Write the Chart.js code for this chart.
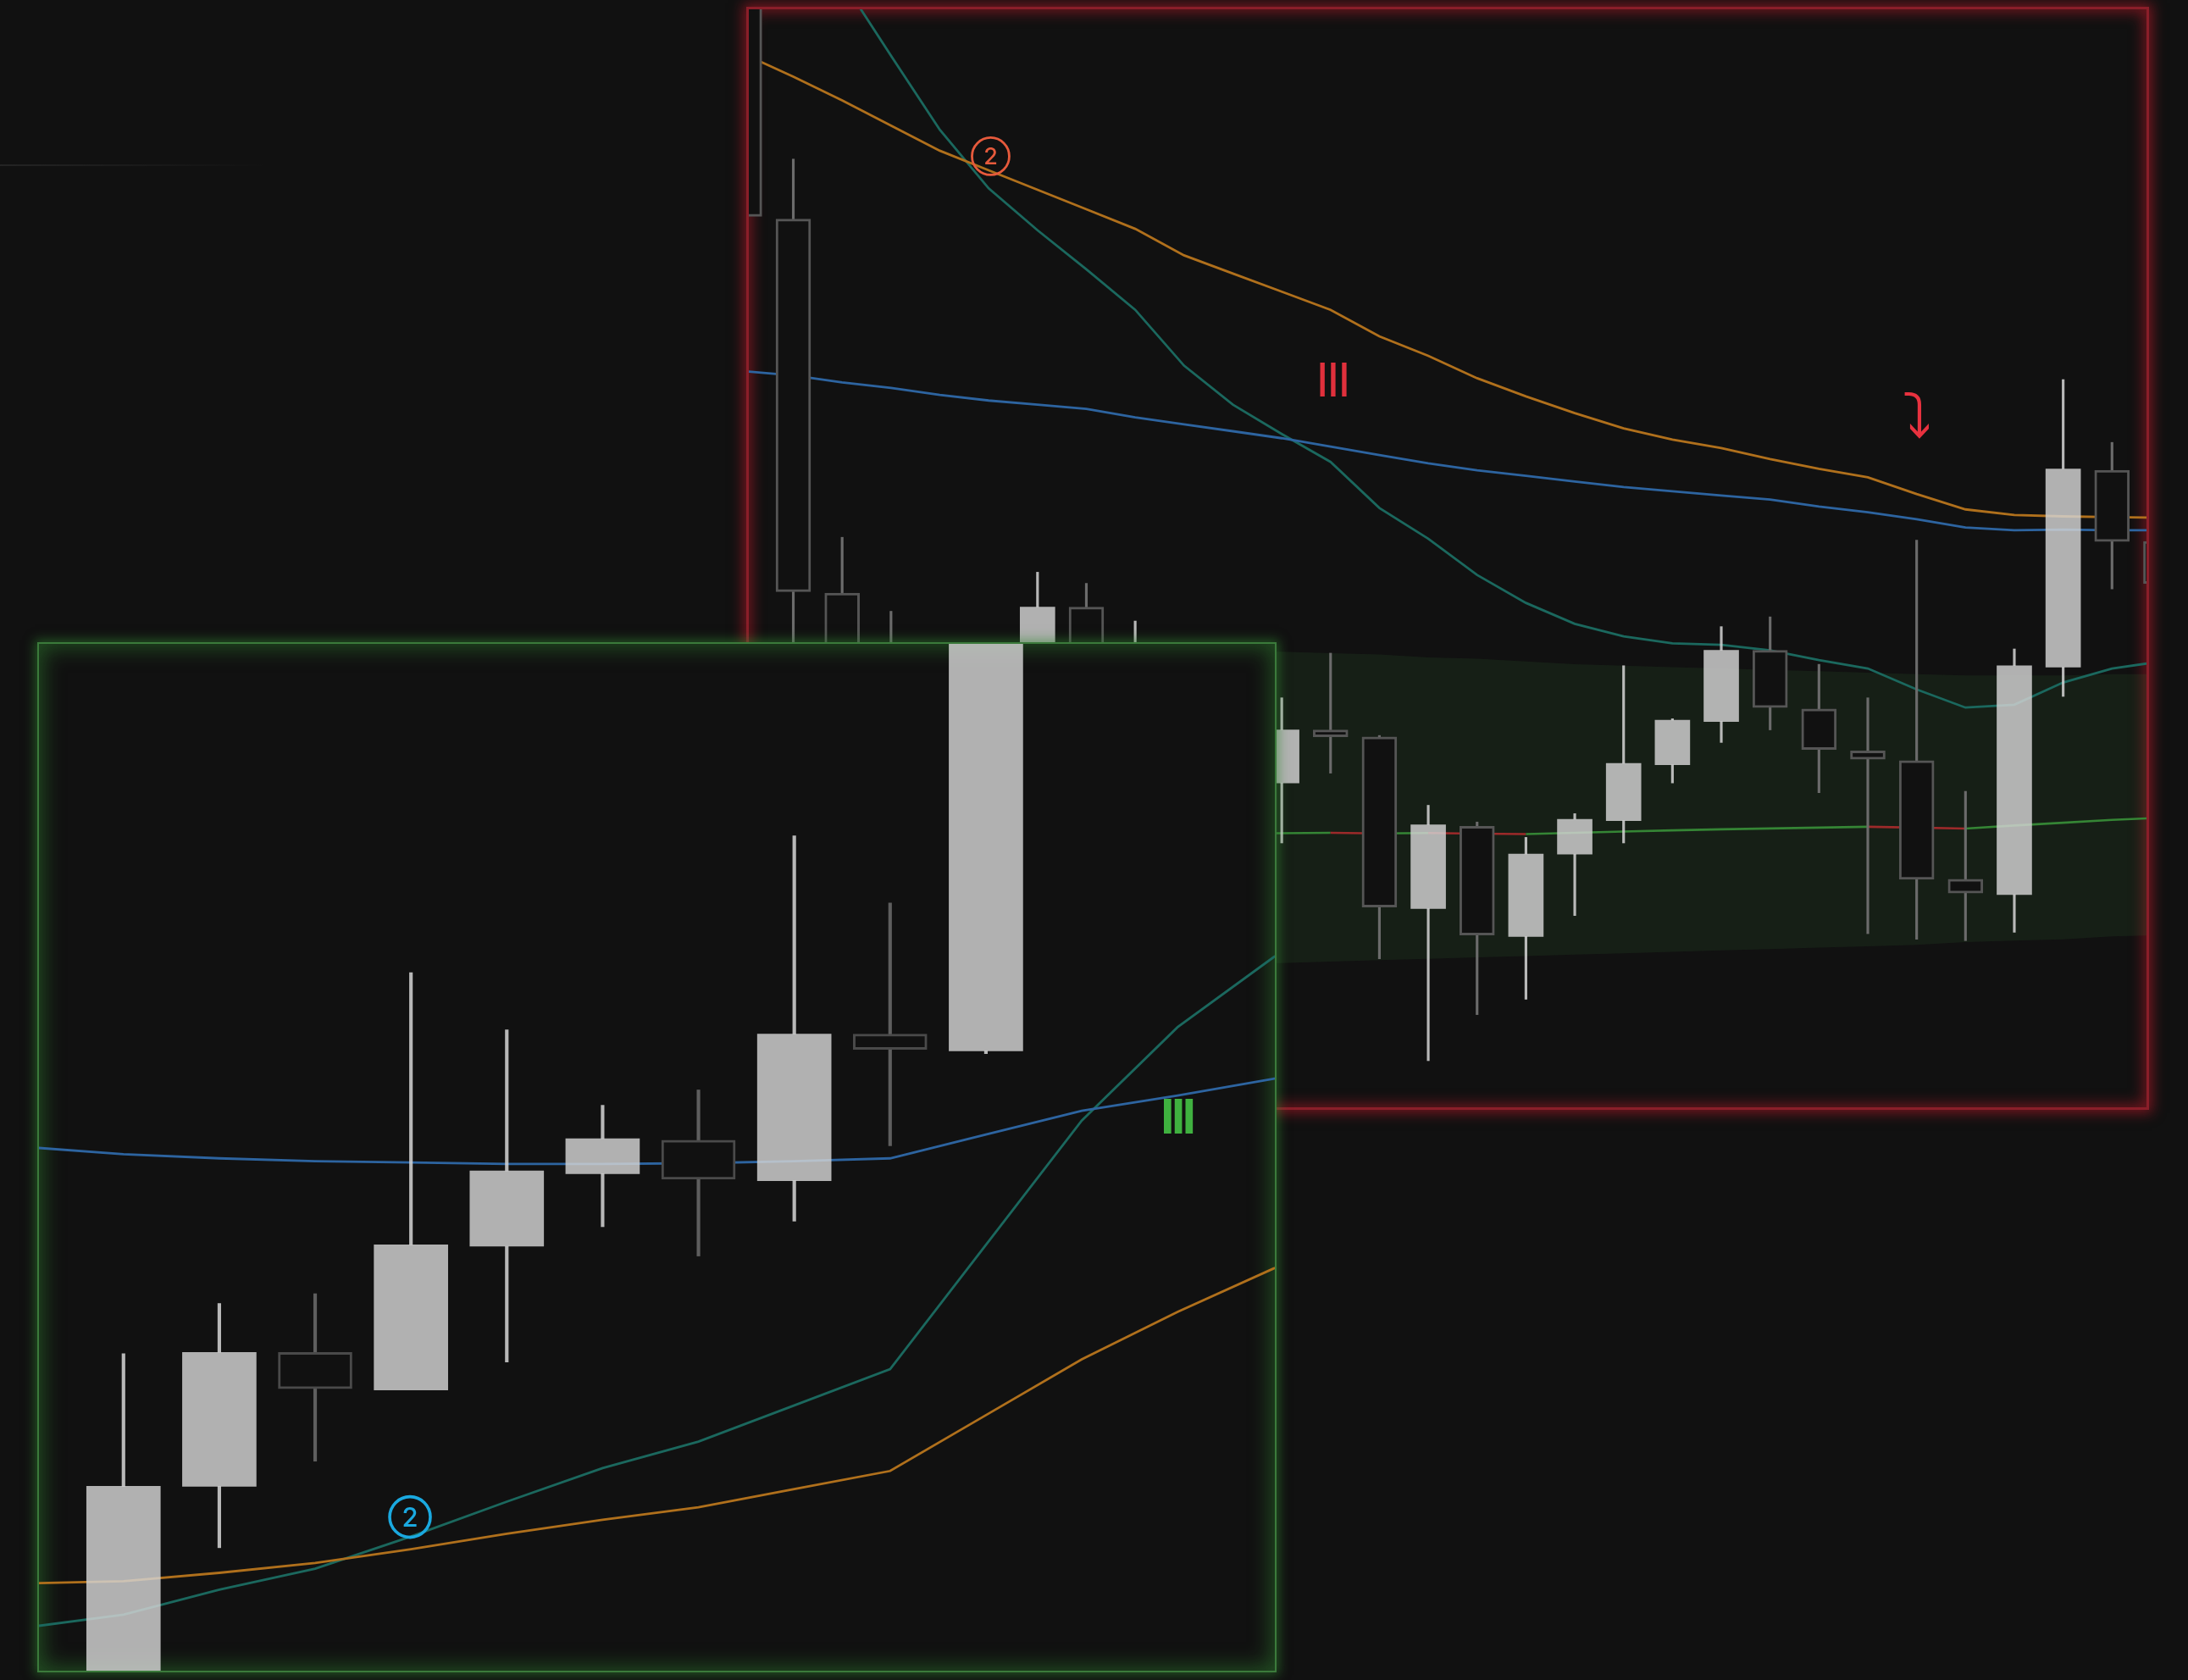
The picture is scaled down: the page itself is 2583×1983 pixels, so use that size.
<!DOCTYPE html>
<html>
<head>
<meta charset="utf-8">
<script src="https://cdn.jsdelivr.net/npm/chart.js@4.4.1/dist/chart.umd.min.js"></script>
<style>
    html, body { margin: 0; padding: 0; background: #111111; width: 2583px; height: 1983px; overflow: hidden; }
    .risco { position: absolute; left: 0; top: 194px; width: 320px; height: 2px; background: linear-gradient(to right, rgba(255,255,255,0.08), rgba(255,255,255,0)); }
    .quadro { position: absolute; box-sizing: border-box; background: #111111; }
    #quadroVermelho { left: 881px; top: 8px; width: 1656px; height: 1302px; border: 3px solid #8a1e29; box-shadow: 0 0 14px 4px rgba(180,25,40,0.6), inset 0 0 16px 4px rgba(180,25,40,0.55); z-index: 1; }
    #quadroVerde { left: 44px; top: 758px; width: 1463px; height: 1216px; border: 2px solid #3b7a3b; box-shadow: 0 0 12px 3px rgba(50,135,50,0.55), inset 0 0 24px 5px rgba(50,135,50,0.5); z-index: 2; }
    canvas { position: absolute; left: 0; top: 0; }
</style>
</head>
<body>
<div class="risco"></div>
<div class="quadro" id="quadroVermelho"><canvas id="graficoVermelho" width="1650" height="1296"></canvas></div>
<div class="quadro" id="quadroVerde"><canvas id="graficoVerde" width="1459" height="1212"></canvas></div>

<script>
// ---- grafico de cima (quadro vermelho) ----
var abreVermelho  = [90.5, 74.3, 47.5, 43.0, 40.0, 41.5, 42.5, 46.5, 41.0, 40.5, 37.0, 33.9, 37.7, 37.2, 24.9, 30.8, 22.9, 28.8, 31.2, 35.2, 38.3, 43.4, 39.2, 36.2, 35.5, 27.0, 25.9, 42.2, 56.3, 51.2];
var maxVermelho   = [92.0, 78.6, 51.5, 46.2, 43.0, 43.5, 49.0, 48.2, 45.5, 42.0, 39.5, 40.0, 43.2, 37.3, 32.3, 31.1, 30.0, 31.7, 42.3, 38.5, 45.1, 45.8, 42.4, 40.0, 51.3, 33.3, 43.5, 62.8, 58.3, 52.0];
var minVermelho   = [70.0, 42.0, 39.5, 39.0, 38.5, 40.5, 41.0, 40.8, 40.0, 34.0, 31.0, 29.6, 34.6, 21.3, 14.0, 17.3, 18.4, 24.4, 29.6, 33.9, 36.8, 37.7, 33.2, 23.1, 22.7, 22.6, 23.2, 40.1, 47.8, 47.0];
var fechaVermelho = [74.5, 47.6, 42.0, 41.0, 42.0, 43.0, 46.5, 42.2, 43.5, 37.0, 34.0, 37.7, 37.2, 25.0, 30.9, 23.0, 28.8, 31.3, 35.3, 38.4, 43.4, 39.3, 36.3, 35.6, 27.0, 26.0, 42.3, 56.4, 51.2, 48.2];

var mediaLaranjaVermelho = [86.1, 84.5, 82.8, 81.0, 79.2, 77.8, 76.4, 75.0, 73.6, 71.7, 70.4, 69.1, 67.8, 65.9, 64.5, 62.9, 61.6, 60.4, 59.3, 58.5, 57.9, 57.1, 56.4, 55.8, 54.6, 53.5, 53.1, 53.0, 52.95, 52.9];
var mediaAzulVermelho    = [63.4, 63.1, 62.6, 62.2, 61.7, 61.3, 61.0, 60.7, 60.1, 59.6, 59.1, 58.6, 58.0, 57.4, 56.8, 56.3, 55.9, 55.5, 55.1, 54.8, 54.5, 54.2, 53.7, 53.3, 52.8, 52.2, 52.0, 52.05, 52.0, 52.0];
var mediaVerdeAguaVermelho = [102.2, 96.8, 91.4, 86.0, 80.7, 76.5, 73.5, 70.7, 67.8, 63.8, 61.0, 58.9, 56.9, 53.6, 51.4, 48.8, 46.8, 45.3, 44.4, 43.9, 43.8, 43.4, 42.7, 42.1, 40.6, 39.3, 39.5, 41.1, 42.1, 42.6];

var faixaTopo  = [43.3, 43.3, 43.3, 43.3, 43.3, 43.3, 43.3, 43.3, 43.3, 43.3, 43.3, 43.3, 43.2, 43.1, 42.9, 42.8, 42.6, 42.4, 42.3, 42.2, 42.1, 42.0, 41.9, 41.8, 41.7, 41.6, 41.6, 41.6, 41.7, 41.7];
var faixaMeio  = [30.3, 30.3, 30.3, 30.3, 30.3, 30.3, 30.3, 30.3, 30.3, 30.3, 30.3, 30.3, 30.33, 30.28, 30.31, 30.27, 30.24, 30.33, 30.42, 30.5, 30.58, 30.64, 30.7, 30.76, 30.7, 30.63, 30.85, 31.05, 31.25, 31.4];
var faixaBase  = [21.0, 21.0, 21.0, 21.0, 21.0, 21.0, 21.0, 21.0, 21.0, 21.0, 21.0, 21.0, 21.1, 21.2, 21.3, 21.4, 21.5, 21.6, 21.7, 21.8, 21.9, 22.0, 22.1, 22.2, 22.3, 22.5, 22.6, 22.7, 22.9, 23.0];

// ---- grafico de baixo (quadro verde) ----
var abreVerde  = [3.5, 18.5, 28.1, 25.4, 35.7, 40.9, 43.3, 40.4, 50.9, 49.7];
var maxVerde   = [28.0, 31.6, 32.3, 55.3, 51.2, 45.8, 46.9, 65.1, 60.3, 83.0];
var minVerde   = [1.5, 14.1, 20.3, 25.4, 27.4, 37.1, 35.0, 37.5, 42.9, 49.5];
var fechaVerde = [18.5, 28.1, 25.5, 35.8, 41.1, 43.4, 40.5, 50.9, 49.8, 81.0];

var indicesMediasVerde = [-1, 0, 1, 2, 3, 4, 5, 6, 7, 8, 9, 10, 11, 12, 13];
var mediaAzulVerde     = [42.8, 42.3, 42.0, 41.8, 41.7, 41.6, 41.6, 41.65, 41.8, 42.0, 43.7, 45.4, 46.5, 47.7, 48.9];
var mediaVerdeAguaVerde = [8.4, 9.3, 11.1, 12.6, 14.9, 17.4, 19.8, 21.7, 24.3, 26.9, 35.8, 44.7, 51.4, 56.4, 61.0];
var mediaLaranjaVerde  = [11.55, 11.7, 12.3, 13.0, 14.0, 15.1, 16.1, 17.0, 18.3, 19.6, 23.6, 27.6, 31.0, 34.1, 37.0];

// marcas (indice da vela, preco)
var circuloVermelho = [5.04, 78.8];
var barrasVermelho  = [12.03, 62.8];
var setaVermelho    = [24.0, 60.2];
var circuloVerde    = [2.99, 16.3];
var barrasVerde     = [10.99, 45.0];

function pontos(xs, ys) {
    return ys.map((v, i) => ({ x: xs[i], y: v }));
}

function montarVelas(abre, max, min, fecha) {
    var velas = { corpoAlta: [], corpoBaixa: [], pavioAlta: [], pavioBaixa: [] };
    for (let i = 0; i < abre.length; i++) {
        var topo = Math.max(abre[i], fecha[i]);
        var base = Math.min(abre[i], fecha[i]);
        var alta = fecha[i] >= abre[i];
        var corpos = alta ? velas.corpoAlta : velas.corpoBaixa;
        var pavios = alta ? velas.pavioAlta : velas.pavioBaixa;
        corpos.push({ x: i, y: [abre[i], fecha[i]] });
        // pavio em dois pedacos para nao aparecer atras do corpo
        if (max[i] > topo) pavios.push({ x: i, y: [topo, max[i]] });
        if (min[i] < base) pavios.push({ x: i, y: [min[i], base] });
    }
    return velas;
}

function pluginMarcas(itens) {
    return {
        id: 'marcas',
        afterDatasetsDraw(chart) {
            var ctx = chart.ctx;
            var x = chart.scales.x;
            var y = chart.scales.y;
            ctx.save();
            itens.forEach((m) => {
                var px = x.getPixelForValue(m.pos[0]);
                var py = y.getPixelForValue(m.pos[1]);
                if (m.raio) {
                    ctx.beginPath();
                    ctx.arc(px, py, m.raio, 0, Math.PI * 2);
                    ctx.lineWidth = m.linha;
                    ctx.strokeStyle = m.cor;
                    ctx.stroke();
                }
                ctx.font = m.fonte;
                ctx.fillStyle = m.cor;
                ctx.textAlign = 'center';
                ctx.textBaseline = 'alphabetic';
                ctx.letterSpacing = m.espaco || '0px';
                var med = ctx.measureText(m.texto);
                ctx.fillText(m.texto, px, py + (med.actualBoundingBoxAscent - med.actualBoundingBoxDescent) / 2);
            });
            ctx.restore();
        }
    };
}

function graficoVelas(idCanvas, velas, medias, extras, eixoX, eixoY, estilo, marcas) {
    var ctx = document.getElementById(idCanvas).getContext('2d');

    var conjuntos = extras.concat(medias).concat([
        {
            type: 'bar', data: velas.pavioAlta, grouped: false, barThickness: estilo.pavio,
            backgroundColor: 'rgba(214,214,214,0.85)', borderWidth: 0, order: 5
        },
        {
            type: 'bar', data: velas.pavioBaixa, grouped: false, barThickness: estilo.pavio,
            backgroundColor: estilo.pavioBaixa, borderWidth: 0, order: 5
        },
        {
            type: 'bar', data: velas.corpoAlta, grouped: false, barThickness: estilo.corpo,
            backgroundColor: 'rgba(210,210,210,0.83)', borderWidth: 0, borderSkipped: false, order: 1
        },
        {
            type: 'bar', data: velas.corpoBaixa, grouped: false, barThickness: estilo.corpo,
            backgroundColor: '#111111', borderColor: estilo.bordaBaixa, borderWidth: estilo.borda, borderSkipped: false, order: 1
        }
    ]);

    new Chart(ctx, {
        type: 'bar',
        data: { datasets: conjuntos },
        options: {
            responsive: false,
            animation: false,
            maintainAspectRatio: false,
            layout: { padding: 0 },
            events: [],
            plugins: {
                legend: { display: false },
                tooltip: { enabled: false }
            },
            scales: {
                x: { type: 'linear', display: false, offset: false, min: eixoX[0], max: eixoX[1] },
                y: { type: 'linear', display: false, min: eixoY[0], max: eixoY[1] }
            }
        },
        plugins: [pluginMarcas(marcas)]
    });
}

function linhaMedia(dados, cor, largura) {
    return {
        type: 'line', data: dados, borderColor: cor, borderWidth: largura,
        pointRadius: 0, fill: false, tension: 0, order: 8
    };
}

var indicesVermelho = abreVermelho.map((v, i) => i);

graficoVelas('graficoVermelho',
    montarVelas(abreVermelho, maxVermelho, minVermelho, fechaVermelho),
    [
        linhaMedia(pontos(indicesVermelho, mediaAzulVermelho), '#2d64a0', 2.8),
        linhaMedia(pontos(indicesVermelho, mediaLaranjaVermelho), '#b0701c', 2.8),
        linhaMedia(pontos(indicesVermelho, mediaVerdeAguaVermelho), '#1b685e', 2.8)
    ],
    [
        {
            type: 'line', data: pontos(indicesVermelho, faixaTopo), borderWidth: 0, pointRadius: 0,
            fill: '+1', backgroundColor: 'rgba(60,120,60,0.14)', order: 10
        },
        {
            type: 'line', data: pontos(indicesVermelho, faixaBase), borderWidth: 0, pointRadius: 0,
            fill: false, order: 10
        },
        {
            type: 'line', data: pontos(indicesVermelho, faixaMeio), borderWidth: 2.6, pointRadius: 0,
            fill: false, order: 9, borderColor: '#358535',
            segment: {
                borderColor: (c) => c.p1.parsed.y < c.p0.parsed.y ? '#9c2a2a' : '#358535'
            }
        }
    ],
    [0.089, 28.706], [10.66, 89.33],
    { corpo: 41, pavio: 2.5, borda: 3, bordaBaixa: '#555555', pavioBaixa: '#6b6b6b' },
    [
        { pos: circuloVermelho, texto: '2', cor: '#e65a3c', raio: 22, linha: 2.8, fonte: '500 27px Inter' },
        { pos: barrasVermelho, texto: 'III', cor: '#e0303c', fonte: '57px "Liberation Sans"', espaco: '-3px' },
        { pos: setaVermelho, texto: '⤵', cor: '#e8323f', fonte: '72px "DejaVu Sans"' }
    ]
);

graficoVelas('graficoVerde',
    montarVelas(abreVerde, maxVerde, minVerde, fechaVerde),
    [
        linhaMedia(pontos(indicesMediasVerde, mediaAzulVerde), '#2d64a0', 2.8),
        linhaMedia(pontos(indicesMediasVerde, mediaLaranjaVerde), '#b0701c', 2.8),
        linhaMedia(pontos(indicesMediasVerde, mediaVerdeAguaVerde), '#1b685e', 2.8)
    ],
    [],
    [-0.882, 12.015], [5.29, 78.86],
    { corpo: 87, pavio: 3.5, borda: 3, bordaBaixa: '#4a4a4a', pavioBaixa: '#5e5e5e' },
    [
        { pos: circuloVerde, texto: '2', cor: '#1aa9e0', raio: 24, linha: 3.6, fonte: '500 31px Inter' },
        { pos: barrasVerde, texto: 'III', cor: '#3fb13f', fonte: 'bold 60px "Liberation Sans"', espaco: '-4px' }
    ]
);
</script>
</body>
</html>
